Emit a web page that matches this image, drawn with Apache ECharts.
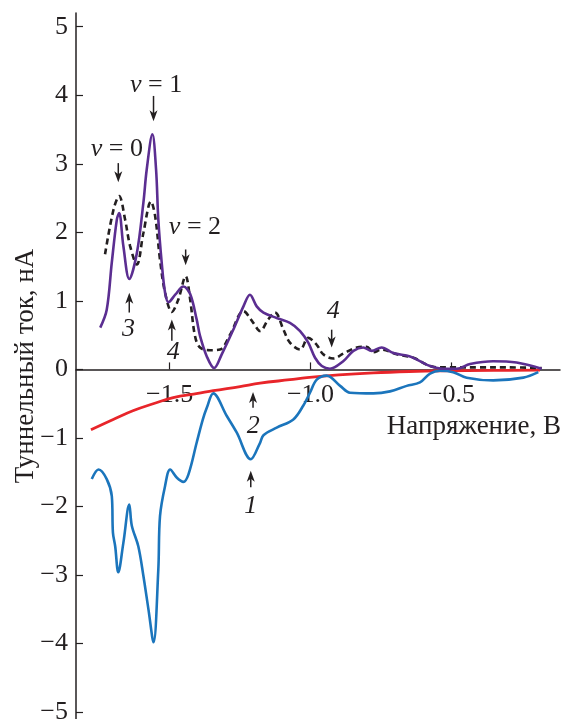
<!DOCTYPE html>
<html>
<head>
<meta charset="utf-8">
<script src="https://cdn.jsdelivr.net/npm/echarts@6/dist/echarts.min.js"></script>
<style>
  html, body { margin: 0; padding: 0; background: #fff; }
  #chart { width: 563px; height: 719px; }
</style>
</head>
<body>
<div id="chart"></div>
<script>
// кривые: напряжение (В) и ток (нА)
var purpleV = [-1.746, -1.723, -1.705, -1.687, -1.679, -1.664, -1.643, -1.616, -1.593, -1.581, -1.561, -1.548, -1.540, -1.528, -1.516, -1.504, -1.480, -1.451, -1.427, -1.404, -1.392, -1.368, -1.342, -1.315, -1.274, -1.238, -1.215, -1.191, -1.167, -1.120, -1.073, -1.037, -1.008, -0.984, -0.960, -0.931, -0.884, -0.848, -0.813, -0.783, -0.748, -0.706, -0.647, -0.612, -0.576, -0.529, -0.482, -0.434, -0.352, -0.269, -0.180];
var purpleI = [0.61, 0.87, 1.56, 2.19, 2.28, 1.80, 1.32, 1.70, 2.43, 2.92, 3.43, 2.92, 2.19, 1.56, 1.12, 0.98, 1.09, 1.21, 1.10, 0.73, 0.49, 0.19, 0.02, 0.22, 0.58, 0.92, 1.09, 0.92, 0.83, 0.75, 0.68, 0.56, 0.39, 0.17, 0.05, 0.01, 0.12, 0.27, 0.32, 0.27, 0.32, 0.24, 0.19, 0.12, 0.05, 0.01, 0.01, 0.08, 0.12, 0.10, 0.01];

var dashV = [-1.729, -1.699, -1.679, -1.658, -1.640, -1.616, -1.593, -1.566, -1.551, -1.534, -1.516, -1.492, -1.469, -1.443, -1.427, -1.410, -1.392, -1.356, -1.321, -1.285, -1.238, -1.203, -1.179, -1.150, -1.126, -1.096, -1.073, -1.037, -1.008, -0.978, -0.955, -0.919, -0.884, -0.836, -0.801, -0.777, -0.748, -0.694, -0.635, -0.588, -0.552, -0.500, -0.400, -0.300, -0.180];
var dashI = [1.68, 2.33, 2.53, 2.19, 1.80, 1.53, 1.99, 2.45, 2.23, 1.60, 1.12, 0.84, 1.02, 1.36, 1.02, 0.49, 0.32, 0.28, 0.29, 0.51, 0.85, 0.68, 0.56, 0.73, 0.83, 0.58, 0.39, 0.29, 0.46, 0.36, 0.22, 0.16, 0.23, 0.32, 0.33, 0.25, 0.29, 0.22, 0.17, 0.07, 0.03, 0.03, 0.03, 0.03, 0.02];

var blueV = [-1.776, -1.752, -1.723, -1.705, -1.701, -1.693, -1.682, -1.664, -1.643, -1.634, -1.611, -1.593, -1.575, -1.557, -1.540, -1.534, -1.516, -1.498, -1.474, -1.451, -1.433, -1.404, -1.382, -1.368, -1.345, -1.297, -1.262, -1.212, -1.179, -1.167, -1.120, -1.061, -1.026, -1.002, -0.978, -0.943, -0.895, -0.860, -0.777, -0.718, -0.659, -0.612, -0.576, -0.541, -0.494, -0.446, -0.352, -0.245, -0.192];
var blueI = [-1.60, -1.46, -1.60, -1.85, -2.38, -2.58, -2.96, -2.53, -1.97, -2.28, -2.58, -3.01, -3.50, -3.98, -2.92, -2.14, -1.70, -1.46, -1.58, -1.64, -1.53, -1.07, -0.73, -0.56, -0.35, -0.68, -0.92, -1.31, -1.07, -0.96, -0.85, -0.73, -0.53, -0.34, -0.15, -0.09, -0.24, -0.34, -0.35, -0.32, -0.24, -0.19, -0.06, -0.02, -0.04, -0.12, -0.16, -0.12, -0.04];

var redV = [-1.779, -1.700, -1.628, -1.550, -1.487, -1.400, -1.345, -1.250, -1.179, -1.073, -1.013, -0.900, -0.777, -0.650, -0.541, -0.350, -0.186];
var redI = [-0.88, -0.73, -0.60, -0.49, -0.41, -0.35, -0.31, -0.25, -0.20, -0.15, -0.12, -0.08, -0.05, -0.03, -0.02, -0.015, -0.01];

// деления осей
var xTicks = [-1.5, -1.0, -0.5];
var yTicks = [-5, -4, -3, -2, -1, 0, 1, 2, 3, 4, 5];
var xMin = -1.832, xMax = -0.115;
var yMin = -5.1, yMax = 5.2;

// подписи и стрелки (координаты в единицах данных)
var noteText = ['{i|v} = 0', '{i|v} = 1', '{i|v} = 2', '{i|3}', '{i|4}', '{i|4}', '{i|2}', '{i|1}'];
var noteV = [-1.687, -1.548, -1.410, -1.646, -1.487, -0.919, -1.203, -1.212];
var noteI = [3.21, 4.15, 2.08, 0.58, 0.25, 0.85, -0.83, -1.99];
var arrowV = [-1.682, -1.557, -1.443, -1.643, -1.492, -0.925, -1.204, -1.212];
var arrowFrom = [3.01, 3.99, 1.75, 0.83, 0.42, 0.58, -0.56, -1.72];
var arrowTo = [2.73, 3.62, 1.52, 1.12, 0.73, 0.32, -0.33, -1.48];

function zip(a, b) {
	return a.map(function (v, i) { return [v, b[i]]; });
}

function minus(v) {
	return v < 0 ? '\u2212' + String(-v) : String(v);
}

var FONT = '"Liberation Serif", "DejaVu Serif", serif';
var INK = '#231f20';
var W = 563, H = 719;
var grid = { left: 76, right: 3, top: 13, bottom: 0 };
var gridH = H - grid.top - grid.bottom;

var chart = echarts.init(document.getElementById('chart'), null, { renderer: 'canvas' });

chart.setOption({
	animation: false,
	backgroundColor: '#fff',
	grid: { left: grid.left, right: grid.right, top: grid.top, bottom: grid.bottom, containLabel: false, outerBoundsMode: 'none' },
	xAxis: {
		type: 'value',
		min: xMin,
		max: xMax,
		//ось X поднята до нуля тока
		offset: -gridH * (0 - yMin) / (yMax - yMin),
		axisLine: { onZero: false, lineStyle: { color: INK, width: 1.5 } },
		axisTick: { show: true, inside: true, length: 7, customValues: xTicks, lineStyle: { color: INK, width: 1.2 } },
		axisLabel: {
			customValues: xTicks,
			showMinLabel: true,
			showMaxLabel: true,
			margin: 13,
			fontFamily: FONT,
			fontSize: 26,
			color: INK,
			formatter: function (v) { return '\u2212' + Math.abs(v).toFixed(1); }
		},
		splitLine: { show: false }
	},
	yAxis: {
		type: 'value',
		min: yMin,
		max: yMax,
		name: 'Туннельный ток, нА',
		nameLocation: 'middle',
		nameGap: 37,
		nameMoveOverlap: false,
		nameTextStyle: { fontFamily: FONT, fontSize: 27, color: INK },
		axisLine: { onZero: false, lineStyle: { color: INK, width: 1.5 } },
		axisTick: { show: true, inside: true, length: 7, customValues: yTicks, lineStyle: { color: INK, width: 1.2 } },
		axisLabel: {
			customValues: yTicks,
			margin: 8,
			fontFamily: FONT,
			fontSize: 26,
			color: INK,
			formatter: function (v) { return minus(v); }
		},
		splitLine: { show: false }
	},
	series: [
		{
			type: 'line', data: zip(redV, redI), smooth: 0.4, showSymbol: false,
			lineStyle: { color: '#e8252a', width: 2.8 }, z: 3
		},
		{
			type: 'line', data: zip(blueV, blueI), smooth: 0.35, showSymbol: false,
			lineStyle: { color: '#1b75bc', width: 2.6 }, z: 4
		},
		{
			type: 'line', data: zip(dashV, dashI), smooth: 0.35, showSymbol: false,
			lineStyle: { color: '#231f20', width: 2.6, type: [6, 4] }, z: 5
		},
		{
			type: 'line', data: zip(purpleV, purpleI), smooth: 0.35, showSymbol: false,
			lineStyle: { color: '#5b2e91', width: 2.6 }, z: 6
		}
	]
});

// подписи и стрелки поверх графика
var notes = [];
noteText.forEach(function (t, i) {
	var p = chart.convertToPixel({ gridIndex: 0 }, [noteV[i], noteI[i]]);
	notes.push({
		type: 'text', x: p[0], y: p[1], z: 10,
		style: {
			text: t, fill: INK, font: '26px ' + FONT,
			align: 'center', verticalAlign: 'middle',
			rich: { i: { fontStyle: 'italic', fontFamily: FONT, fontSize: 26, fill: INK } }
		}
	});
	var a = chart.convertToPixel({ gridIndex: 0 }, [arrowV[i], arrowFrom[i]]);
	var b = chart.convertToPixel({ gridIndex: 0 }, [arrowV[i], arrowTo[i]]);
	var dir = b[1] > a[1] ? 1 : -1;
	notes.push({
		type: 'line', z: 10,
		shape: { x1: a[0], y1: a[1], x2: b[0], y2: b[1] - dir * 6 },
		style: { stroke: INK, lineWidth: 1.5 }
	});
	notes.push({
		type: 'polygon', z: 10,
		shape: { points: [[b[0], b[1]], [b[0] - 4, b[1] - dir * 11], [b[0], b[1] - dir * 8], [b[0] + 4, b[1] - dir * 11]] },
		style: { fill: INK }
	});
});

//подпись оси X под правым концом оси
var end = chart.convertToPixel({ gridIndex: 0 }, [xMax, 0]);
notes.push({
	type: 'text', x: W - 2, y: end[1] + 57, z: 10,
	style: { text: 'Напряжение, В', fill: INK, font: '27px ' + FONT, align: 'right', verticalAlign: 'middle' }
});
chart.setOption({ graphic: notes });
</script>
</body>
</html>
